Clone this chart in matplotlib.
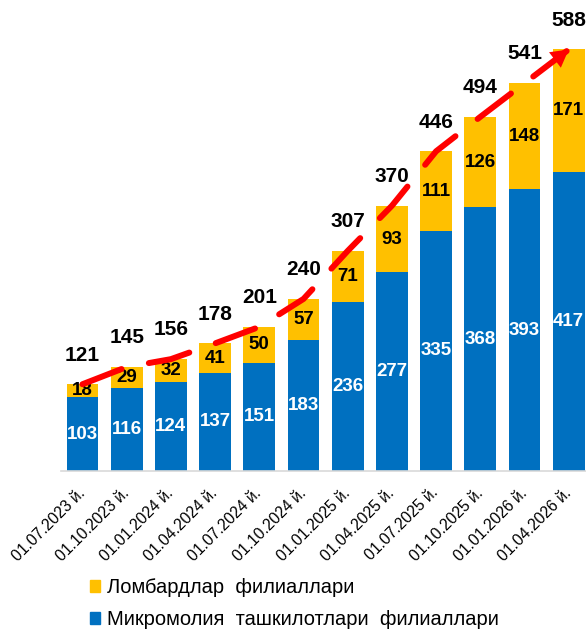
import matplotlib
matplotlib.use("Agg")
import matplotlib.pyplot as plt
from matplotlib.patches import Patch

#Datos
fechas = ["01.07.2023 й.", "01.10.2023 й.", "01.01.2024 й.", "01.04.2024 й.",
          "01.07.2024 й.", "01.10.2024 й.", "01.01.2025 й.", "01.04.2025 й.",
          "01.07.2025 й.", "01.10.2025 й.", "01.01.2026 й.", "01.04.2026 й."]
mikro = [103, 116, 124, 137, 151, 183, 236, 277, 335, 368, 393, 417]
lombard = [18, 29, 32, 41, 50, 57, 71, 93, 111, 126, 148, 171]
jami = [121, 145, 156, 178, 201, 240, 307, 370, 446, 494, 541, 588]

nombre_lombard = "Ломбардлар  филиаллари"
nombre_mikro = "Микромолия  ташкилотлари  филиаллари"

azul = "#0070C0"
amarillo = "#FFC000"

plt.rcParams['font.family'] = ['Liberation Sans', 'DejaVu Sans']
plt.rcParams['lines.scale_dashes'] = False

fig = plt.figure(figsize=(5.86, 6.30), dpi=100)
ax = fig.add_axes([0.104, 0.2524, 0.896, 0.7476])

x = list(range(len(fechas)))
ancho = 0.72

#Barras apiladas
ax.bar(x, mikro, width=ancho, color=azul, zorder=2)
ax.bar(x, lombard, width=ancho, bottom=mikro, color=amarillo, zorder=2)

#Etiquetas dentro de las barras y totales
for i in x:
  ax.text(i, mikro[i] / 2, str(mikro[i]), ha='center', va='center',
          color='white', fontsize=13.5, fontweight='bold', zorder=3)
  ax.text(i, mikro[i] + lombard[i] / 2, str(lombard[i]), ha='center', va='center',
          color='black', fontsize=13.5, fontweight='bold', zorder=3)
  ax.annotate(str(jami[i]), xy=(i, jami[i]), xytext=(0, 21), textcoords='offset points',
              ha='center', va='center', fontsize=15, fontweight='bold', zorder=6)

#Linea roja con flecha
ax.plot(x, jami, color='red', lw=4.3, linestyle=(0, (30.2, 20.2)),
        dash_capstyle='round', solid_capstyle='round', zorder=4)
ax.annotate('', xy=(x[-1], jami[-1]),
            xytext=(x[-1] - 0.3, jami[-1] - 0.3 * (jami[-1] - jami[-2])),
            arrowprops=dict(arrowstyle='-|>,head_length=0.5,head_width=0.28',
                            color='red', lw=0, mutation_scale=25,
                            shrinkA=0, shrinkB=0), zorder=5)

ax.set_xlim(-0.486, 11.39)
ax.set_ylim(0, 657)
ax.set_xticks(x)
ax.set_xticklabels(fechas, rotation=45, ha='right', va='center',
                   rotation_mode='anchor', fontsize=11.3)
ax.tick_params(axis='x', length=0, pad=14)
ax.set_yticks([])
for lado in ['top', 'right', 'left']:
  ax.spines[lado].set_visible(False)
ax.spines['bottom'].set_color('#D9D9D9')
ax.spines['bottom'].set_linewidth(1.2)

#Leyenda
manijas = [Patch(color=amarillo, label=nombre_lombard),
           Patch(color=azul, label=nombre_mikro)]
fig.legend(handles=manijas, loc='upper left', bbox_to_anchor=(0.14, 0.095),
           frameon=False, fontsize=14.5, handlelength=0.5, handleheight=0.5,
           handletextpad=0.35, labelspacing=0.65, borderaxespad=0)

fig.savefig("out.png", dpi=100)
